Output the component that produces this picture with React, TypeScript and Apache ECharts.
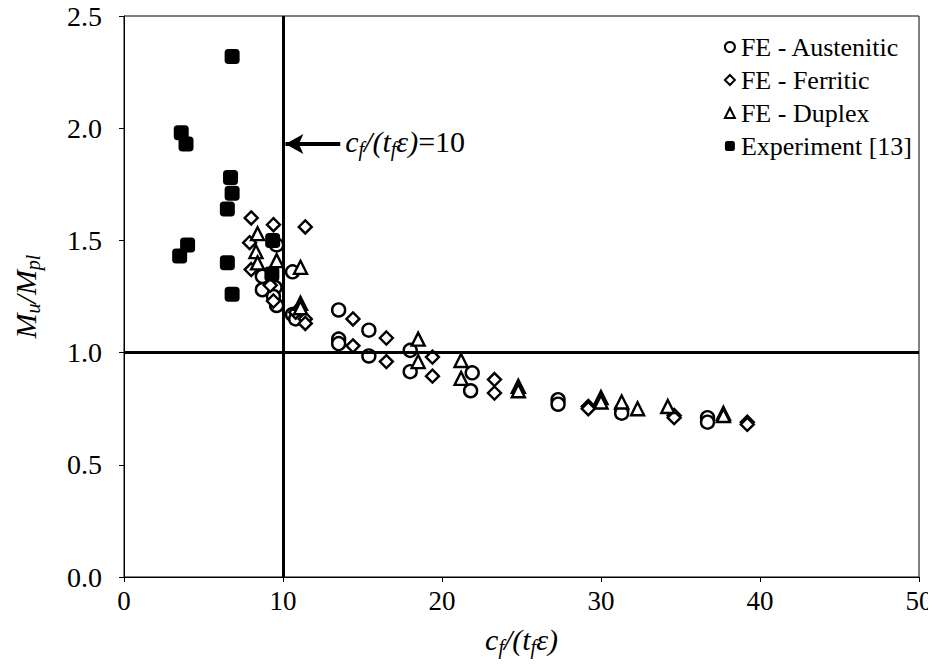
import React, { useEffect, useRef } from "react";
import * as echarts from "echarts";

const xTicks = [0, 10, 20, 30, 40, 50];
const yTicks = [0, 0.5, 1.0, 1.5, 2.0, 2.5];

const austenitic: number[][] = [
  [9.6, 1.48], [8.7, 1.34], [8.7, 1.28], [9.5, 1.29], [9.4, 1.25], [9.6, 1.21],
  [10.6, 1.36], [10.6, 1.17], [10.8, 1.15], [13.5, 1.19], [13.5, 1.06], [13.5, 1.04],
  [15.4, 1.1], [15.4, 0.985], [18.0, 1.01], [18.0, 0.915], [21.9, 0.91], [21.8, 0.83],
  [27.3, 0.79], [27.3, 0.77], [31.3, 0.745], [31.3, 0.73], [36.7, 0.71], [36.7, 0.69],
];

const ferritic: number[][] = [
  [8.0, 1.6], [9.4, 1.57], [11.4, 1.56], [7.9, 1.49], [8.0, 1.37], [9.2, 1.3],
  [9.4, 1.23], [10.8, 1.18], [11.4, 1.15], [11.4, 1.13], [14.4, 1.15], [14.4, 1.03],
  [16.5, 1.065], [16.5, 0.96], [19.4, 0.98], [19.4, 0.895], [23.3, 0.88], [23.3, 0.82],
  [29.2, 0.76], [29.2, 0.75], [34.6, 0.72], [34.6, 0.71], [39.2, 0.69], [39.2, 0.68],
];

const duplex: number[][] = [
  [8.4, 1.53], [8.3, 1.45], [8.4, 1.4], [9.6, 1.41], [11.1, 1.38], [11.1, 1.22],
  [11.1, 1.2], [18.5, 1.06], [18.5, 0.96], [21.2, 0.965], [21.2, 0.885], [24.8, 0.85],
  [24.8, 0.83], [30.0, 0.8], [30.0, 0.78], [31.3, 0.78], [32.3, 0.75], [34.2, 0.76],
  [37.7, 0.73], [37.7, 0.72],
];

const experiment: number[][] = [
  [6.8, 2.32], [3.6, 1.98], [3.9, 1.93], [6.7, 1.78], [6.8, 1.71], [6.5, 1.64],
  [4.0, 1.48], [3.5, 1.43], [6.5, 1.4], [6.8, 1.26], [9.35, 1.5], [9.3, 1.35],
];

const limitX = 10;
const limitY = 1.0;
const arrowFrom = [13.6, 1.93];
const arrowTo = [10.15, 1.93];

const FONT = "Liberation Serif";

const hollow = {
  color: "#ffffff",
  borderColor: "#000000",
  borderWidth: 2.4,
  opacity: 1,
};

export default function App() {
  const ref = useRef<HTMLDivElement>(null);

  useEffect(() => {
    if (!ref.current) return;
    const chart = echarts.init(ref.current, null, { renderer: "svg" });
    const sub = {
      i: { fontFamily: FONT, fontSize: 30, fontStyle: "italic", color: "#000" },
      s: { fontFamily: FONT, fontSize: 20, fontStyle: "italic", color: "#000", verticalAlign: "bottom", padding: [16, 0, 0, 0] },
    };
    const option: any = {
      animation: false,
      backgroundColor: "#ffffff",
      textStyle: { fontFamily: FONT },
      grid: {
        left: 124,
        right: 17,
        top: 16,
        bottom: 94,
        show: true,
        borderColor: "#000",
        borderWidth: 1,
        backgroundColor: "transparent",
      },
      legend: {
        orient: "vertical",
        right: 19,
        top: 29,
        itemWidth: 10,
        itemHeight: 10,
        itemGap: 7,
        textStyle: { fontFamily: FONT, fontSize: 26, color: "#000", padding: [0, 0, 0, 1] },
        data: ["FE - Austenitic", "FE - Ferritic", "FE - Duplex", "Experiment [13]"],
      },
      xAxis: {
        type: "value",
        min: xTicks[0],
        max: xTicks[xTicks.length - 1],
        interval: 10,
        axisLine: { show: true, onZero: false, lineStyle: { color: "#000", width: 1 } },
        axisTick: { show: true, inside: false, length: 5, lineStyle: { color: "#000" } },
        splitLine: { show: false },
        axisLabel: { fontFamily: FONT, fontSize: 27, color: "#000", margin: 10 },
        name: "{i|c}{s|f}{i|/(t}{s|f}{i|ε)}",
        nameLocation: "middle",
        nameGap: 44,
        nameTextStyle: { rich: sub },
      },
      yAxis: {
        type: "value",
        min: yTicks[0],
        max: yTicks[yTicks.length - 1],
        interval: 0.5,
        axisLine: { show: true, onZero: false, lineStyle: { color: "#000", width: 1 } },
        axisTick: { show: true, inside: false, length: 5, lineStyle: { color: "#000" } },
        splitLine: { show: false },
        axisLabel: {
          fontFamily: FONT,
          fontSize: 28,
          color: "#000",
          margin: 22,
          formatter: (v: number) => v.toFixed(1),
        },
        name: "{i|M}{s|u}{i|/M}{s|pl}",
        nameLocation: "middle",
        nameRotate: 90,
        nameGap: 81,
        nameTextStyle: { rich: sub },
      },
      series: [
        {
          name: "FE - Austenitic",
          type: "scatter",
          symbol: "circle",
          symbolSize: 13,
          itemStyle: hollow,
          data: austenitic,
          z: 3,
        },
        {
          name: "FE - Ferritic",
          type: "scatter",
          symbol: "diamond",
          symbolSize: 13,
          itemStyle: hollow,
          data: ferritic,
          z: 3,
        },
        {
          name: "FE - Duplex",
          type: "scatter",
          symbol: "triangle",
          symbolSize: 13,
          itemStyle: hollow,
          data: duplex,
          z: 3,
        },
        {
          name: "Experiment [13]",
          type: "scatter",
          symbol: "roundRect",
          symbolSize: 15,
          itemStyle: { color: "#000", opacity: 1 },
          data: experiment,
          z: 4,
          markLine: {
            silent: true,
            symbol: ["none", "none"],
            label: { show: false },
            lineStyle: { color: "#000", width: 3, type: "solid", opacity: 1 },
            data: [
              { xAxis: limitX },
              { yAxis: limitY },
              [
                { coord: arrowFrom, symbol: "none", lineStyle: { width: 4 } },
                { coord: arrowTo, symbol: "arrow", symbolSize: [15, 18] },
              ],
            ],
          },
        },
      ],
    };
    chart.setOption(option);

    const p = chart.convertToPixel({ gridIndex: 0 }, arrowFrom) as number[];
    chart.setOption({
      graphic: [
        {
          type: "text",
          x: p[0] + 5,
          y: p[1] - 2,
          style: {
            text: "{i|c}{s|f}{i|/(t}{s|f}{i|ε)}{n|=10}",
            verticalAlign: "middle",
            rich: {
              i: { fontFamily: FONT, fontSize: 30, fontStyle: "italic", fill: "#000" },
              s: { fontFamily: FONT, fontSize: 20, fontStyle: "italic", fill: "#000", verticalAlign: "bottom", padding: [15, 0, 0, 0] },
              n: { fontFamily: FONT, fontSize: 30, fill: "#000" },
            },
          },
          z: 10,
        },
      ],
    });

    return () => chart.dispose();
  }, []);

  return <div ref={ref} style={{ width: 936, height: 671, marginLeft: -8, marginTop: -8 }} />;
}
